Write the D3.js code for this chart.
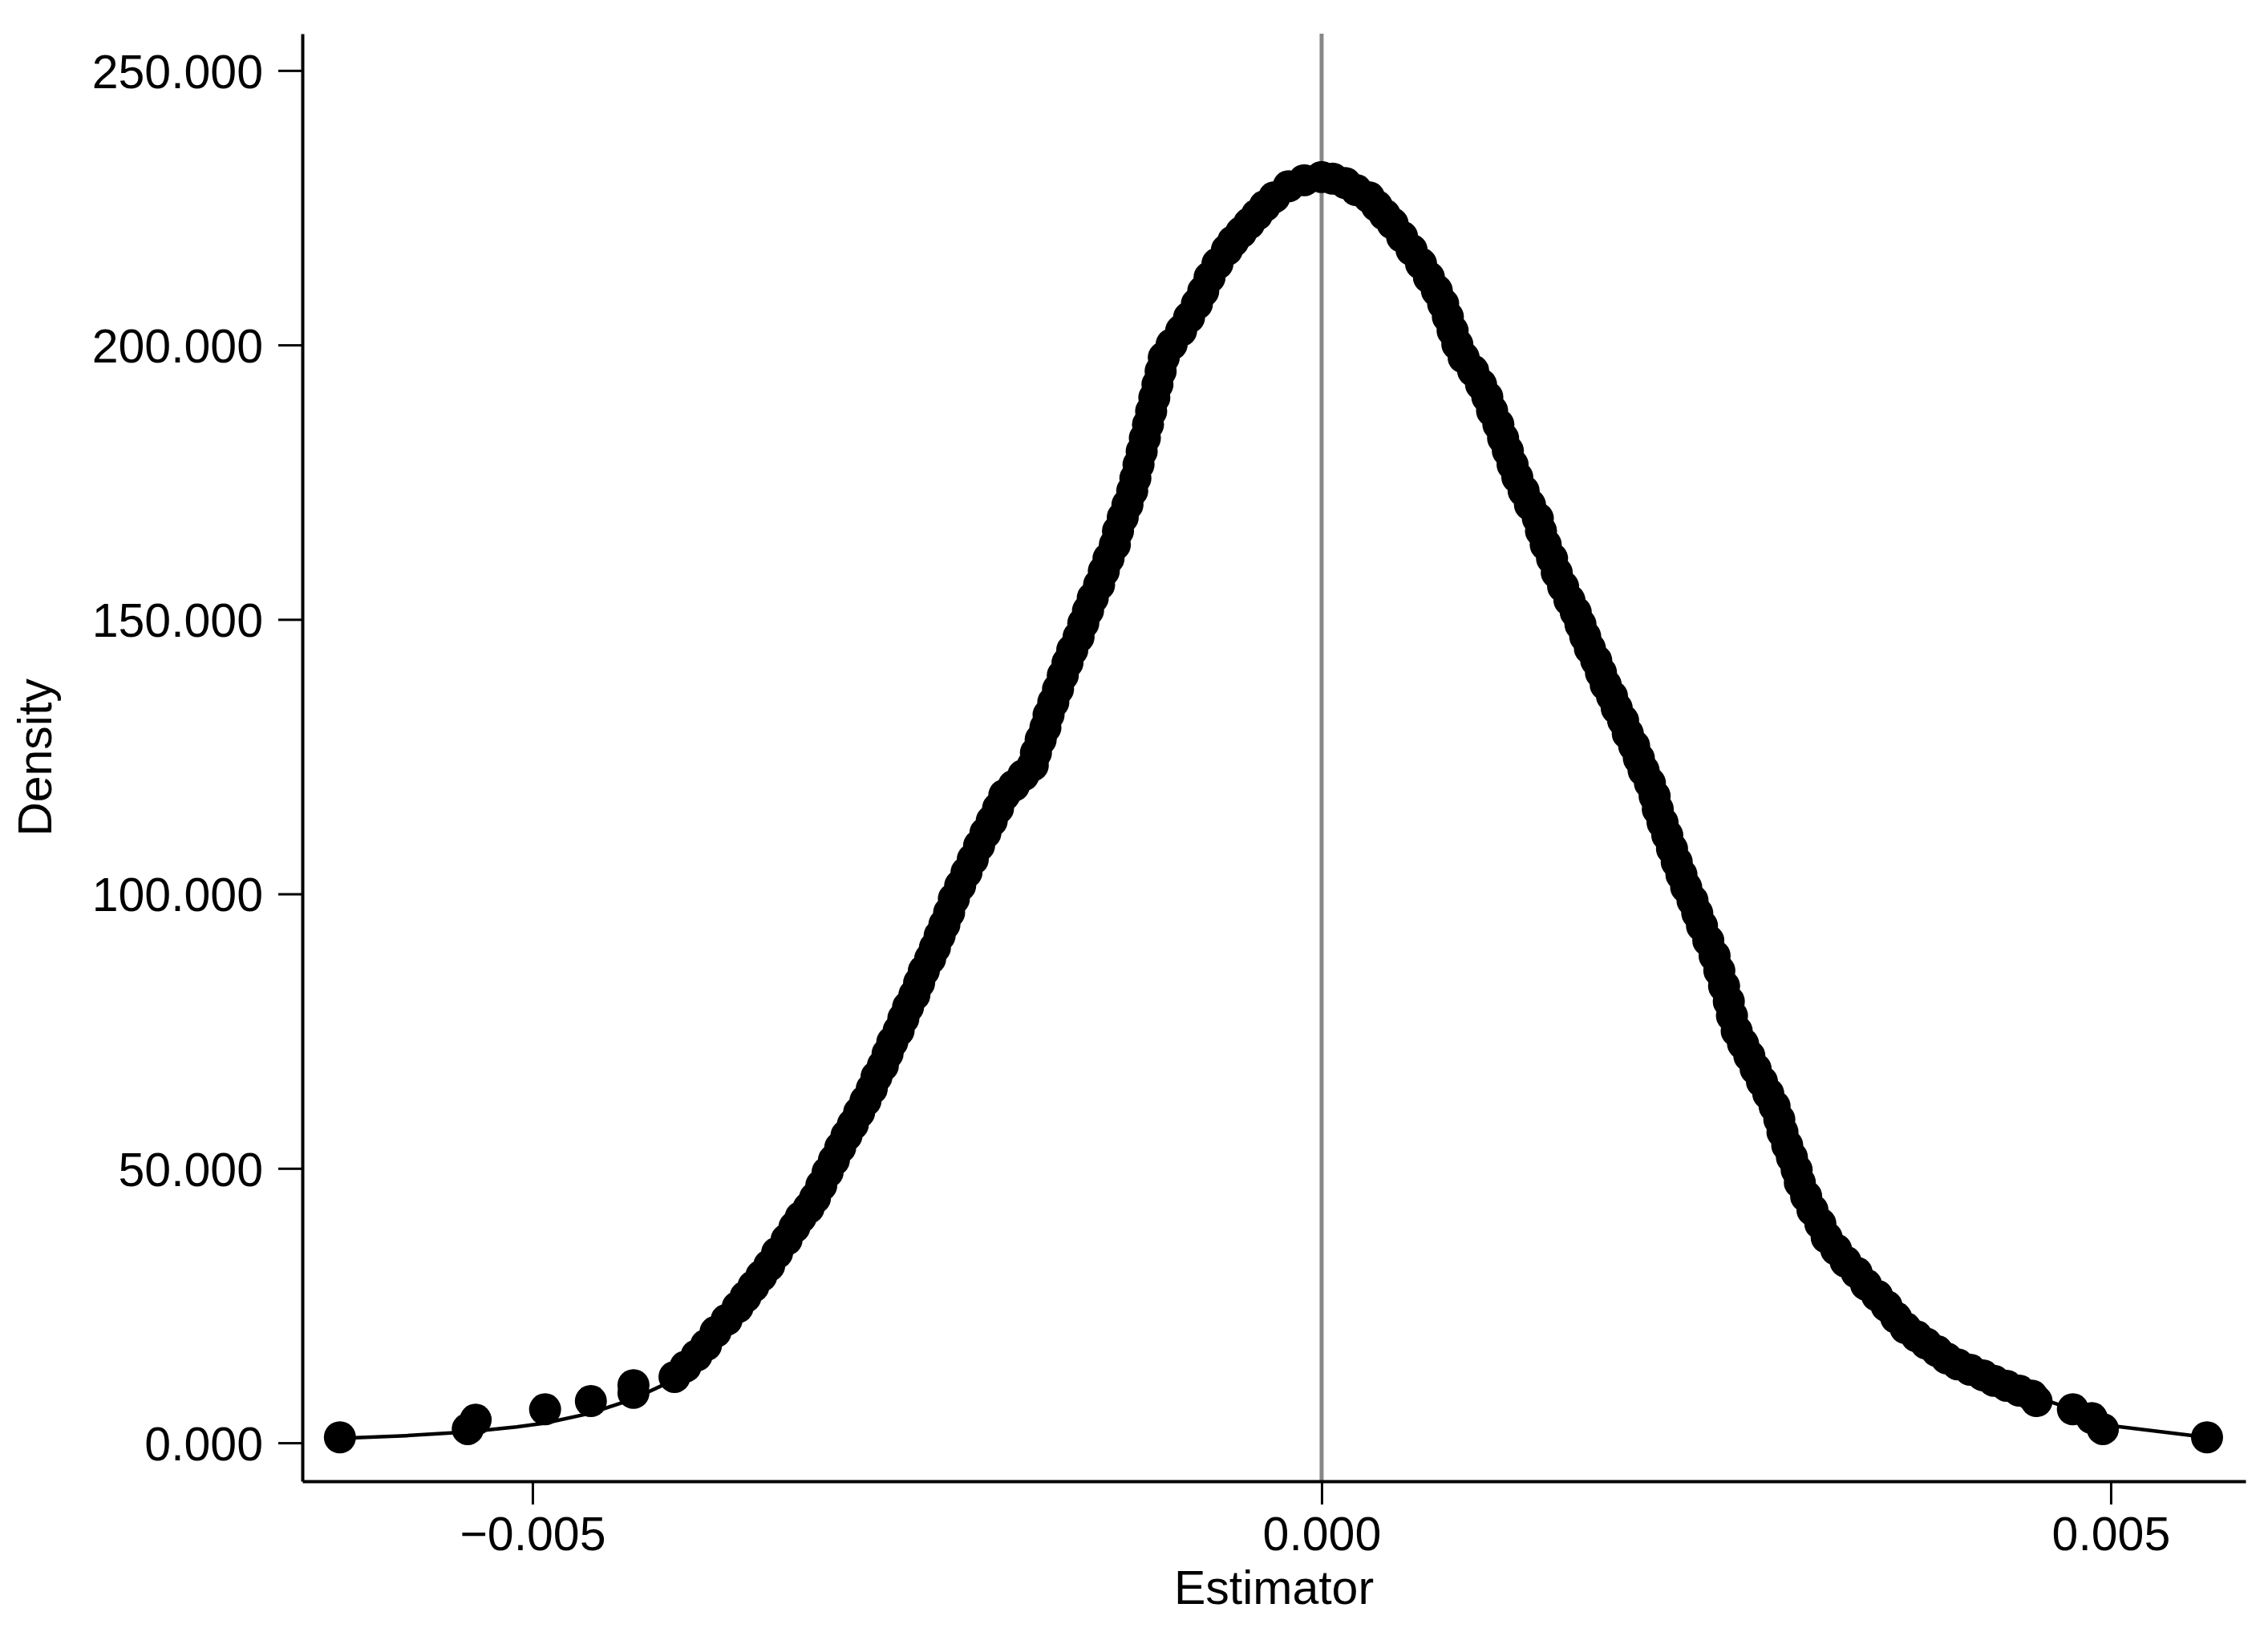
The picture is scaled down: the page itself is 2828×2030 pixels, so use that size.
<!DOCTYPE html>
<html><head><meta charset="utf-8">
<script src="https://cdn.jsdelivr.net/npm/d3@7"></script>
<style>html,body{margin:0;padding:0;background:#fff;} svg{display:block;}</style>
</head><body>
<svg id="chart" width="2828" height="2030"></svg>
<script>
// ---- Data ----
const estimates = [
  -0.00622, -0.00541, -0.00536, -0.00492, -0.00463, -0.00436, -0.00436, -0.00410,
  -0.00403, -0.00396, -0.00390, -0.00384, -0.00377, -0.00370, -0.00365, -0.00360, -0.00355, -0.00350,
  -0.00345, -0.00339, -0.00334, -0.00330, -0.00325, -0.00321, -0.00317, -0.00313, -0.00309, -0.00305,
  -0.00301, -0.00297, -0.00293, -0.00289, -0.00285, -0.00282, -0.00278, -0.00275, -0.00272, -0.00268,
  -0.00265, -0.00262, -0.00258, -0.00255, -0.00252, -0.00248, -0.00245, -0.00242, -0.00239, -0.00236,
  -0.00233, -0.00229, -0.00225, -0.00221, -0.00217, -0.00213, -0.00209, -0.00205, -0.00201, -0.00195,
  -0.00189, -0.00183, -0.00181, -0.00178, -0.00175, -0.00173, -0.00170, -0.00167, -0.00164, -0.00161,
  -0.00158, -0.00154, -0.00151, -0.00148, -0.00145, -0.00141, -0.00138, -0.00135, -0.00131, -0.00129,
  -0.00126, -0.00123, -0.00120, -0.00118, -0.00116, -0.00114, -0.00112, -0.00110, -0.00108, -0.00106,
  -0.00104, -0.00102, -0.00100, -0.00095, -0.00089, -0.00084, -0.00079, -0.00075, -0.00071, -0.00066,
  -0.00060, -0.00056, -0.00051, -0.00046, -0.00041, -0.00036, -0.00030, -0.00021, -0.00011, 0.00000,
  0.00007, 0.00015, 0.00022, 0.00030, 0.00035, 0.00040, 0.00045, 0.00051, 0.00057, 0.00063,
  0.00068, 0.00073, 0.00077, 0.00080, 0.00083, 0.00086, 0.00090, 0.00096, 0.00101, 0.00105,
  0.00108, 0.00112, 0.00115, 0.00118, 0.00121, 0.00124, 0.00128, 0.00132, 0.00137, 0.00139,
  0.00142, 0.00146, 0.00149, 0.00153, 0.00157, 0.00161, 0.00164, 0.00167, 0.00170, 0.00174,
  0.00177, 0.00180, 0.00184, 0.00187, 0.00191, 0.00194, 0.00198, 0.00201, 0.00204, 0.00208,
  0.00211, 0.00213, 0.00216, 0.00219, 0.00222, 0.00225, 0.00228, 0.00231, 0.00235, 0.00238,
  0.00241, 0.00245, 0.00249, 0.00252, 0.00255, 0.00258, 0.00260, 0.00263, 0.00267, 0.00271,
  0.00275, 0.00279, 0.00283, 0.00287, 0.00290, 0.00292, 0.00295, 0.00298, 0.00301, 0.00303,
  0.00307, 0.00311, 0.00316, 0.00320, 0.00326, 0.00332, 0.00339, 0.00345, 0.00352, 0.00358,
  0.00364, 0.00370, 0.00377, 0.00383, 0.00390, 0.00396, 0.00403, 0.00411, 0.00419, 0.00426,
  0.00434, 0.00442, 0.00450, 0.00453, 0.00476, 0.00488, 0.00495, 0.00561
];
const densities = [
  1.0, 2.5, 4.2, 6.1, 7.6, 9.1, 10.5, 12.0,
  13.9, 15.9, 17.8, 20.2, 22.4, 24.7, 26.6, 28.5, 30.4, 32.3,
  34.6, 37.0, 39.3, 41.1, 42.8, 44.6, 46.9, 49.3, 51.5, 53.8,
  56.0, 58.0, 60.2, 62.3, 64.5, 66.7, 68.7, 70.9, 73.0, 75.1,
  77.3, 79.4, 81.6, 83.8, 86.0, 88.2, 90.2, 92.4, 94.4, 96.6,
  99.1, 101.5, 103.9, 106.3, 108.8, 111.1, 113.3, 115.6, 118.0, 119.7,
  121.6, 123.4, 125.7, 128.1, 130.3, 132.6, 134.9, 137.3, 139.8, 142.1,
  144.4, 146.8, 149.3, 151.6, 153.9, 156.3, 158.8, 161.1, 163.6, 166.1,
  168.6, 170.9, 173.4, 175.7, 178.2, 180.6, 183.0, 185.5, 187.9, 190.4,
  192.8, 195.2, 197.7, 200.1, 202.6, 205.0, 207.5, 209.8, 212.3, 214.8,
  217.3, 218.9, 220.5, 222.1, 223.7, 225.3, 226.9, 228.9, 230.0, 230.6,
  230.3, 229.5, 228.2, 226.9, 225.3, 223.7, 222.1, 219.7, 217.3, 214.8,
  212.3, 209.9, 207.5, 205.1, 202.6, 200.1, 197.7, 195.3, 192.8, 190.5,
  188.0, 185.5, 183.0, 180.7, 178.2, 175.9, 173.4, 170.9, 168.4, 166.1,
  163.6, 161.1, 158.5, 156.0, 153.5, 151.3, 149.1, 146.9, 144.7, 142.5,
  140.3, 138.1, 136.0, 133.8, 131.6, 129.2, 127.0, 124.7, 122.5, 120.2,
  117.8, 115.4, 113.0, 110.7, 108.2, 105.8, 103.5, 101.2, 98.8, 96.5,
  94.2, 91.5, 88.7, 86.0, 83.2, 80.4, 77.8, 75.0, 72.7, 70.5,
  68.1, 65.8, 63.6, 61.3, 58.9, 56.6, 54.2, 52.0, 49.7, 47.4,
  44.9, 42.4, 39.9, 37.4, 35.2, 33.0, 31.0, 28.8, 26.8, 24.9,
  22.8, 20.9, 19.4, 18.1, 16.7, 15.4, 14.3, 13.3, 12.3, 11.3,
  10.4, 9.5, 8.6, 7.6, 6.1, 4.5, 2.5, 1.0
];
// smooth density line underneath the markers
const lineEstimates = [
  -0.00622, -0.00580, -0.00541, -0.00510, -0.00492, -0.00463, -0.00436, -0.00410, -0.00390, -0.00370,
  -0.00350, -0.00334, -0.00321, -0.00305, -0.00285, -0.00268, -0.00252, -0.00236, -0.00217, -0.00201,
  -0.00183, -0.00170, -0.00145, -0.00131, -0.00120, -0.00112, -0.00100, -0.00089, -0.00079, -0.00071,
  -0.00060, -0.00046, -0.00030, -0.00011, 0.00000, 0.00015, 0.00030, 0.00045, 0.00057, 0.00068,
  0.00077, 0.00090, 0.00101, 0.00115, 0.00128, 0.00142, 0.00157, 0.00174, 0.00191, 0.00208,
  0.00225, 0.00241, 0.00249, 0.00263, 0.00287, 0.00303, 0.00320, 0.00345, 0.00370, 0.00396,
  0.00426, 0.00450, 0.00476, 0.00495, 0.00561
];
const lineDensities = [
  0.8, 1.3, 2.0, 2.9, 3.6, 5.4, 8.0, 11.5, 17.8, 24.7,
  32.3, 39.3, 44.6, 53.8, 64.5, 75.1, 86.0, 96.6, 108.8, 118.0,
  123.4, 134.9, 153.9, 163.6, 173.4, 183.0, 197.7, 202.6, 207.5, 212.3,
  217.3, 222.1, 226.9, 230.0, 230.6, 229.5, 226.9, 222.1, 217.3, 212.3,
  207.5, 197.7, 192.8, 183.0, 173.4, 163.6, 153.5, 142.5, 131.6, 120.2,
  105.8, 94.2, 88.7, 75.0, 61.3, 47.4, 37.4, 28.8, 20.9, 15.4,
  11.3, 8.6, 6.1, 3.3, 1.0
];
const xTicks = [-0.005, 0, 0.005];
const yTicks = [0, 50, 100, 150, 200, 250];
const xTitle = "Estimator";
const yTitle = "Density";
const refLine = 0;

// ---- Layout ----
const W = 2828, H = 2030;
const plot = {left: 377, right: 2800, top: 42, bottom: 1847};
const font = "'Liberation Sans', Arial, Helvetica, sans-serif";
const fs = 59;

const x = d3.scaleLinear().domain([-0.006458, 0.005854]).range([plot.left, plot.right]);
const y = d3.scaleLinear().domain([-7.0, 256.7]).range([plot.bottom, plot.top]);

const svg = d3.select('#chart');
svg.append('rect').attr('width', W).attr('height', H).attr('fill', '#fff');

// reference line at zero
svg.append('line')
  .attr('x1', x(refLine)).attr('x2', x(refLine))
  .attr('y1', plot.top).attr('y2', plot.bottom)
  .attr('stroke', '#878787').attr('stroke-width', 5);

// axes
const fmt = d3.format('.3f');
const yAxis = d3.axisLeft(y).tickValues(yTicks).tickFormat(fmt)
  .tickSize(30).tickSizeOuter(0).tickPadding(19);
const gy = svg.append('g').attr('transform', `translate(${plot.left},0)`).call(yAxis);
gy.select('.domain').attr('stroke', '#000').attr('stroke-width', 4);
gy.selectAll('.tick line').attr('stroke', '#000').attr('stroke-width', 3);
gy.selectAll('.tick text').attr('font-size', fs).attr('font-family', font)
  .attr('fill', '#000').attr('dy', '0.36em');

const xAxis = d3.axisBottom(x).tickValues(xTicks).tickFormat(fmt)
  .tickSize(29).tickSizeOuter(0).tickPadding(15);
const gx = svg.append('g').attr('transform', `translate(0,${plot.bottom})`).call(xAxis);
gx.select('.domain').attr('stroke', '#000').attr('stroke-width', 4);
gx.selectAll('.tick line').attr('stroke', '#000').attr('stroke-width', 3);
gx.selectAll('.tick text').attr('font-size', fs).attr('font-family', font)
  .attr('fill', '#000');

// titles
svg.append('text')
  .attr('x', (plot.left + plot.right) / 2).attr('y', 2000)
  .attr('text-anchor', 'middle').attr('font-size', fs).attr('font-family', font)
  .attr('fill', '#000').text(xTitle);
svg.append('text')
  .attr('transform', `translate(64,${(plot.top + plot.bottom) / 2}) rotate(-90)`)
  .attr('text-anchor', 'middle').attr('font-size', fs).attr('font-family', font)
  .attr('fill', '#000').text(yTitle);

// density line
const lineGen = d3.line().x(d => x(d[0])).y(d => y(d[1]));
svg.append('path')
  .datum(d3.zip(lineEstimates, lineDensities))
  .attr('d', lineGen)
  .attr('fill', 'none').attr('stroke', '#000').attr('stroke-width', 4.5)
  .attr('stroke-linejoin', 'round');

// markers
svg.append('g').selectAll('circle')
  .data(d3.zip(estimates, densities))
  .join('circle')
  .attr('cx', d => x(d[0])).attr('cy', d => y(d[1]))
  .attr('r', 20).attr('fill', '#000');
</script>
</body></html>
